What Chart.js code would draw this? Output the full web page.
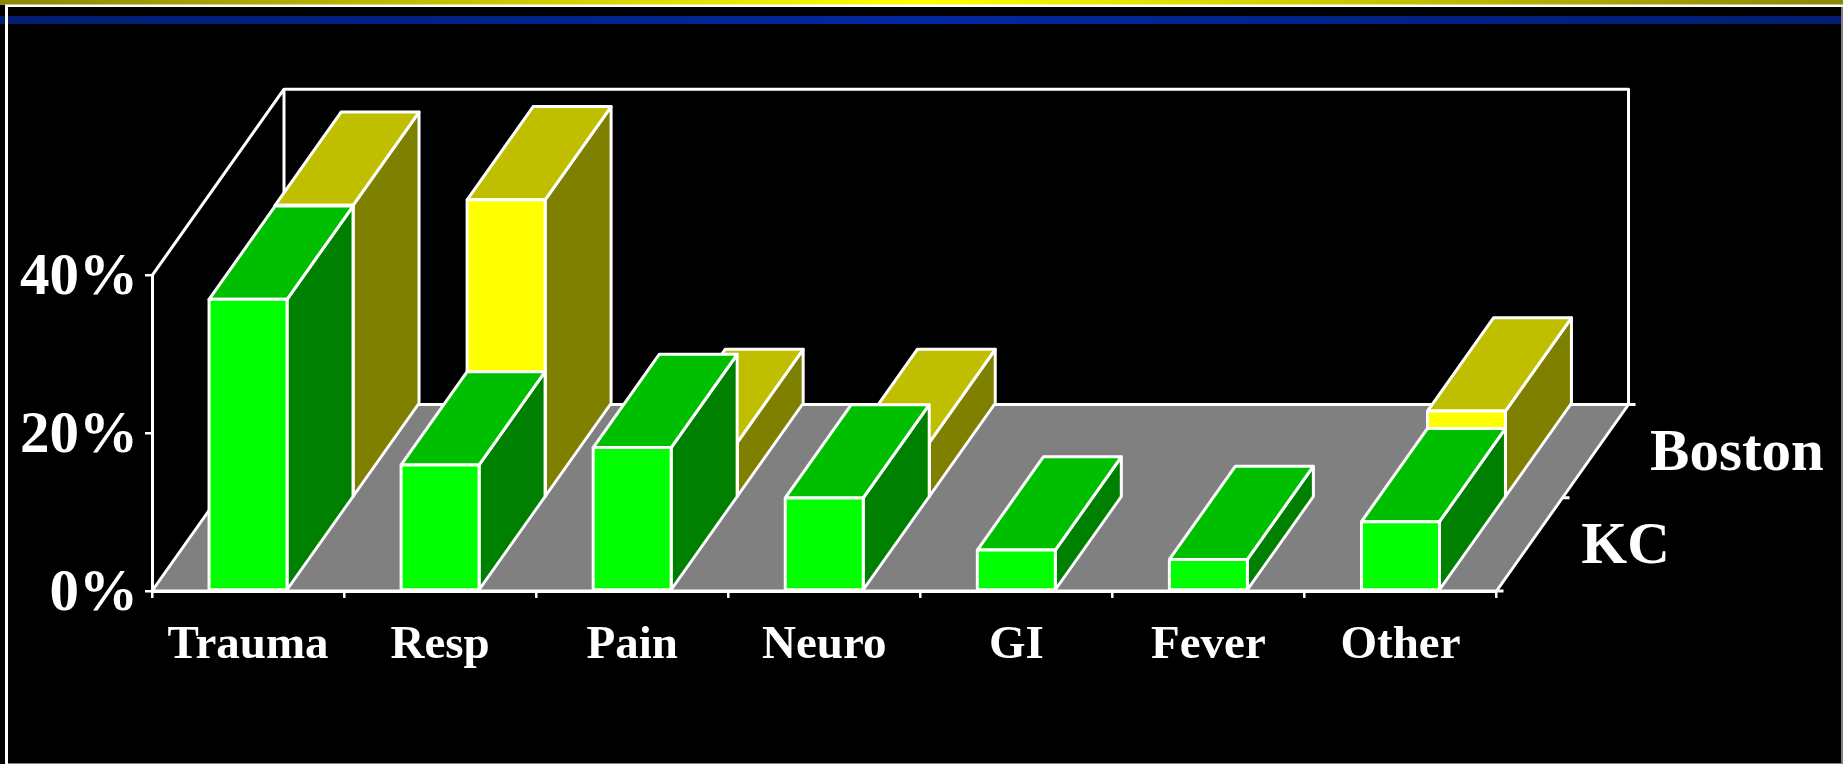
<!DOCTYPE html>
<html>
<head>
<meta charset="utf-8">
<title>Chief complaints, KC and Boston</title>
<script src="https://cdn.jsdelivr.net/npm/chart.js@4"></script>
<style>
  html, body { margin: 0; padding: 0; background: #000; overflow: hidden; }
  #wrap { position: relative; width: 1843px; height: 764px; }
  canvas { display: block; }
</style>
</head>
<body>
<div id="wrap"><canvas id="chart" width="1843" height="764"></canvas></div>
<script>
const categories = ["Trauma", "Resp", "Pain", "Neuro", "GI", "Fever", "Other"];
const kcValues = [37, 16, 18.2, 11.8, 5.2, 4, 8.8];
const bostonValues = [37.1, 37.8, 7, 7, 0, 0, 11];
const seriesNames = ["KC", "Boston"];
const yTicks = [0, 20, 40];

const font = "'Liberation Serif', 'Times New Roman', serif";
const OUTLINE = "#ffffff";
const LINE = 3;

// Perspective offset of the full floor depth; each series row takes half of it.
const DEPTH = { x: 132, y: -186.5 };

const FACES = {
  KC:     { front: "#00ff00", top: "#00bf00", side: "#008000" },
  Boston: { front: "#ffff00", top: "#bfbf00", side: "#808000" }
};

function poly(ctx, pts, fill) {
  ctx.beginPath();
  pts.forEach((p, i) => i ? ctx.lineTo(p[0], p[1]) : ctx.moveTo(p[0], p[1]));
  ctx.closePath();
  if (fill) { ctx.fillStyle = fill; ctx.fill(); }
  ctx.strokeStyle = OUTLINE;
  ctx.lineWidth = LINE;
  ctx.lineJoin = "round";
  ctx.stroke();
}

function drawBox(ctx, bar, row, colors) {
  const half = bar.width / 2;
  const ox = DEPTH.x * row / 2, oy = DEPTH.y * row / 2;
  const dx = DEPTH.x / 2, dy = DEPTH.y / 2;
  const l = bar.x - half + ox, r = bar.x + half + ox;
  const t = bar.y + oy, b = bar.base + oy;
  poly(ctx, [[r, t], [r + dx, t + dy], [r + dx, b + dy], [r, b]], colors.side);
  poly(ctx, [[l, t], [l + dx, t + dy], [r + dx, t + dy], [r, t]], colors.top);
  poly(ctx, [[l, t], [r, t], [r, b], [l, b]], colors.front);
}

// Slide furniture behind the chart: rule bands and the thin frame.
const slideFrame = {
  id: "slideFrame",
  beforeDraw(chart) {
    const { ctx, width, height } = chart;
    ctx.save();
    ctx.fillStyle = "#000";
    ctx.fillRect(0, 0, width, height);
    const gold = ctx.createLinearGradient(0, 0, width, 0);
    gold.addColorStop(0, "#8c8500");
    gold.addColorStop(0.5, "#ffff00");
    gold.addColorStop(1, "#8c8500");
    ctx.fillStyle = gold;
    ctx.fillRect(0, 0, width, 5);
    const blue = ctx.createLinearGradient(0, 0, width, 0);
    blue.addColorStop(0, "#001d70");
    blue.addColorStop(0.5, "#0028a0");
    blue.addColorStop(1, "#001d70");
    ctx.fillStyle = blue;
    ctx.fillRect(0, 16, width, 8);
    ctx.fillStyle = "#ffffff";
    ctx.fillRect(5, 4.5, width - 5, 2.5);
    ctx.fillRect(5, 5, 3, height - 5);
    ctx.fillStyle = "#808080";
    ctx.fillRect(8, 763, width - 8, 1);
    ctx.fillRect(width - 2, 7, 2, height - 7);
    ctx.restore();
  }
};

// Floor and back walls of the box, tied to the chart area and the y scale.
const box3d = {
  id: "box3d",
  beforeDatasetsDraw(chart) {
    const { ctx, chartArea: a, scales } = chart;
    const base = scales.y.getPixelForValue(0);
    const top = scales.y.getPixelForValue(yTicks[yTicks.length - 1]);
    const d = DEPTH;
    ctx.save();
    poly(ctx, [[a.left, base], [a.left + d.x, base + d.y], [a.right + d.x, base + d.y], [a.right, base]], "#808080");
    ctx.beginPath();
    ctx.moveTo(a.left, top);
    ctx.lineTo(a.left + d.x, top + d.y);
    ctx.lineTo(a.right + d.x, top + d.y);
    ctx.lineTo(a.right + d.x, base + d.y);
    ctx.moveTo(a.left + d.x, top + d.y);
    ctx.lineTo(a.left + d.x, base + d.y);
    ctx.strokeStyle = OUTLINE;
    ctx.lineWidth = LINE;
    ctx.stroke();
    // Depth axis: tick stubs and row names along the right edge of the floor.
    [0, 1, 2].forEach(i => {
      const x = a.right + d.x * i / 2, y = base + d.y * i / 2;
      ctx.beginPath();
      ctx.moveTo(x, y);
      ctx.lineTo(x + 7, y);
      ctx.stroke();
    });
    ctx.fillStyle = "#ffffff";
    ctx.font = "bold 59px " + font;
    ctx.textAlign = "center";
    ctx.textBaseline = "alphabetic";
    seriesNames.forEach((name, i) => {
      const x = a.right + d.x * (i + 0.5) / 2 + 96 + i * 45.5;
      const y = base + d.y * (i + 0.5) / 2 + 19;
      ctx.fillText(name, x, y);
    });
    ctx.restore();
  },
  // Boxes replace the flat rectangles of each bar dataset.
  beforeDatasetDraw(chart, args) {
    const { ctx } = chart;
    const row = args.meta.index;
    const name = seriesNames[row];
    ctx.save();
    args.meta.data.forEach((bar, i) => {
      const v = chart.data.datasets[row].data[i];
      if (v > 0) drawBox(ctx, bar.getProps(["x", "y", "base", "width"], true), row, FACES[name]);
    });
    ctx.restore();
    return false;
  }
};

new Chart(document.getElementById("chart"), {
  type: "bar",
  data: {
    labels: categories,
    datasets: [
      { label: seriesNames[0], data: kcValues, grouped: false, backgroundColor: FACES.KC.front },
      { label: seriesNames[1], data: bostonValues, grouped: false, backgroundColor: FACES.Boston.front }
    ]
  },
  options: {
    responsive: false,
    animation: false,
    layout: { padding: { left: 0, top: 275.7, right: 346.5, bottom: 0 } },
    datasets: { bar: { categoryPercentage: 1, barPercentage: 0.406 } },
    plugins: { legend: { display: false }, tooltip: { enabled: false } },
    scales: {
      x: {
        type: "category",
        afterFit(s) { s.height = 173; },
        border: { color: OUTLINE, width: LINE },
        grid: { display: true, drawOnChartArea: false, drawTicks: true, tickLength: 7, color: OUTLINE, lineWidth: 2.5, offset: true },
        ticks: {
          color: "#ffffff",
          autoSkip: false,
          maxRotation: 0,
          minRotation: 0,
          padding: 20,
          font: { family: font, weight: "bold", size: 47 }
        }
      },
      y: {
        type: "linear",
        min: 0,
        max: 40,
        afterFit(s) { s.width = 152; },
        afterBuildTicks(s) { s.ticks = yTicks.map(value => ({ value })); },
        border: { color: OUTLINE, width: LINE },
        grid: { display: true, drawOnChartArea: false, drawTicks: true, tickLength: 7, color: OUTLINE, lineWidth: 2.5 },
        ticks: {
          color: "#ffffff",
          padding: 7,
          // The empty first line nudges the percent text just below its tick.
          callback: v => ["", v + "%"],
          font: { family: font, weight: "bold", size: 59, lineHeight: "7px" }
        }
      }
    }
  },
  plugins: [slideFrame, box3d]
});
</script>
</body>
</html>
